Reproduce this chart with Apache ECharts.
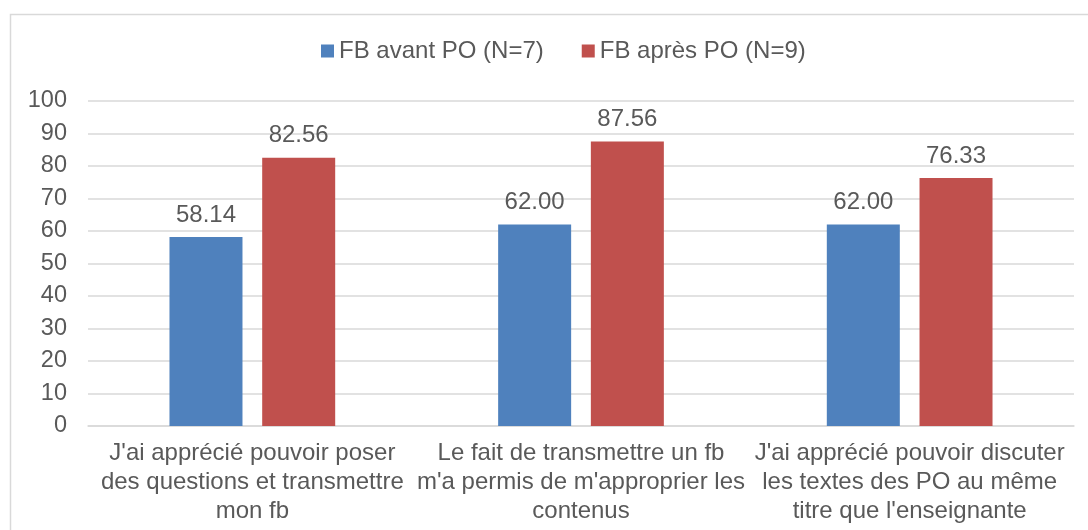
<!DOCTYPE html>
<html><head><meta charset="utf-8">
<script src="https://cdn.jsdelivr.net/npm/echarts@6/dist/echarts.min.js"></script>
<style>html,body{margin:0;padding:0;background:#fff}#c{width:1088px;height:530px}</style>
</head><body><div id="c"></div>
<script>
const categories = [
  "J'ai apprécié pouvoir poser\ndes questions et transmettre\nmon fb",
  "Le fait de transmettre un fb\nm'a permis de m'approprier les\ncontenus",
  "J'ai apprécié pouvoir discuter\nles textes des PO au même\ntitre que l'enseignante"
];
const seriesNames = ["FB avant PO (N=7)", "FB après PO (N=9)"];
const avant = [58.14, 62.00, 62.00];
const apres = [82.56, 87.56, 76.33];
const yTicks = {min: 0, max: 100, interval: 10};

const font = 'Liberation Sans, Arial, sans-serif';
const txt = '#595959';
const fs = 24;
const chart = echarts.init(document.getElementById('c'));
chart.setOption({
  animation: false,
  textStyle: {fontFamily: font},
  graphic: [{type: 'rect', shape: {x: 10.5, y: 14.5, width: 1100, height: 540}, style: {fill: 'none', stroke: '#d9d9d9', lineWidth: 1.5}, silent: true}],
  legend: {
    top: 39, left: 321, itemWidth: 13, itemHeight: 13, itemGap: 38, padding: 0,
    icon: 'rect',
    textStyle: {color: txt, fontSize: fs, fontFamily: font},
    data: seriesNames
  },
  grid: {left: 88, right: 14, top: 101, bottom: 104},
  xAxis: {
    type: 'category', data: categories,
    axisLine: {show: true, lineStyle: {color: '#d9d9d9', width: 1.5}},
    axisTick: {show: false},
    axisLabel: {color: txt, fontSize: fs, lineHeight: 29, margin: 13, fontFamily: font, interval: 0}
  },
  yAxis: {
    type: 'value', min: yTicks.min, max: yTicks.max, interval: yTicks.interval,
    axisLine: {show: false}, axisTick: {show: false},
    splitLine: {lineStyle: {color: '#d9d9d9', width: 1.5}},
    axisLabel: {color: txt, fontSize: 23.5, margin: 21, fontFamily: font, padding: [3, 0, 0, 0]}
  },
  series: [
    {name: seriesNames[0], type: 'bar', data: avant, barWidth: 73, barGap: '27%',
     itemStyle: {color: '#4f81bd'},
     label: {show: true, position: 'top', distance: 10, color: txt, fontSize: fs, fontFamily: font, formatter: p => p.value.toFixed(2)}},
    {name: seriesNames[1], type: 'bar', data: apres, barWidth: 73,
     itemStyle: {color: '#c0504d'},
     label: {show: true, position: 'top', distance: 10, color: txt, fontSize: fs, fontFamily: font, formatter: p => p.value.toFixed(2)}}
  ]
});
</script></body></html>
